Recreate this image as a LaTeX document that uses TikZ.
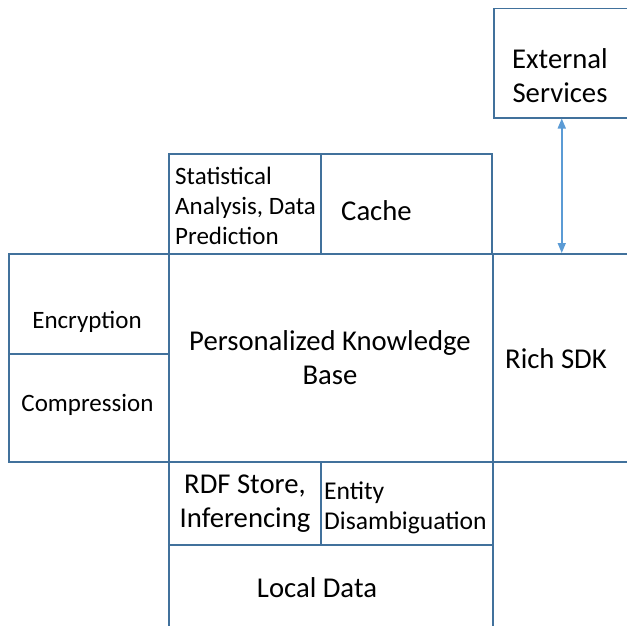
\documentclass[tikz,border=0pt]{standalone}
\usepackage{fontspec}
\setmainfont{Carlito}
\usetikzlibrary{arrows.meta}
\definecolor{bord}{HTML}{41719C}
\definecolor{arr}{HTML}{5B9BD5}
\begin{document}
\begin{tikzpicture}[x=1pt,y=-1pt,
  box/.style={draw=bord,line width=1.5pt,rectangle,inner sep=0pt,anchor=north west},
  big/.style={inner sep=0pt,font=\fontsize{28.7}{34}\selectfont},
  small/.style={inner sep=0pt,font=\fontsize{25}{30}\selectfont},
  link/.style={draw=arr,line width=1.5pt,{Triangle[width=8pt,length=10pt]}-{Triangle[width=8pt,length=10pt]}}]
\useasboundingbox (0,0) rectangle (627,626);
\clip (0,0) rectangle (627,626);
\node[box,minimum width=136pt,minimum height=109pt] (ext) at (493,8) {};
\node[box,minimum width=152pt,minimum height=100pt] (stat) at (168,153) {};
\node[box,minimum width=171pt,minimum height=100pt] (cache) at (320,153) {};
\node[box,minimum width=160pt,minimum height=100pt] (enc) at (8,253) {};
\node[box,minimum width=160pt,minimum height=108pt] (comp) at (8,353) {};
\node[box,minimum width=324pt,minimum height=208pt] (pkb) at (168,253) {};
\node[box,minimum width=138pt,minimum height=208pt] (rsdk) at (492,253) {};
\node[box,minimum width=152pt,minimum height=83pt] (rdf) at (168,461) {};
\node[box,minimum width=172pt,minimum height=83pt] (ent) at (320,461) {};
\node[box,minimum width=324pt,minimum height=96pt] (local) at (168,544) {};
\draw[link] (ext.south) -- (rsdk.north);
\node[big,align=center] (tExt) at (560,76) {External\\Services};
\node[small,align=left,anchor=west] (tStat) at (175,206) {Statistical\\Analysis, Data\\Prediction};
\node[big,anchor=west] (tCache) at (341,211) {Cache};
\node[small] (tEnc) at (87,322) {Encryption};
\node[small] (tComp) at (87.5,405) {Compression};
\node[big,align=center] (tPkb) at (330,358) {Personalized Knowledge\\Base};
\node[big] (tSdk) at (556,359) {Rich SDK};
\node[big,align=center] (tRdf) at (245,504) {RDF Store,\\Inferencing};
\node[small,align=left,anchor=west,font=\fontsize{25.6}{30}\selectfont] (tEnt) at (324,508) {Entity\\Disambiguation};
\node[big] (tLocal) at (317,588) {Local Data};
\end{tikzpicture}
\end{document}
